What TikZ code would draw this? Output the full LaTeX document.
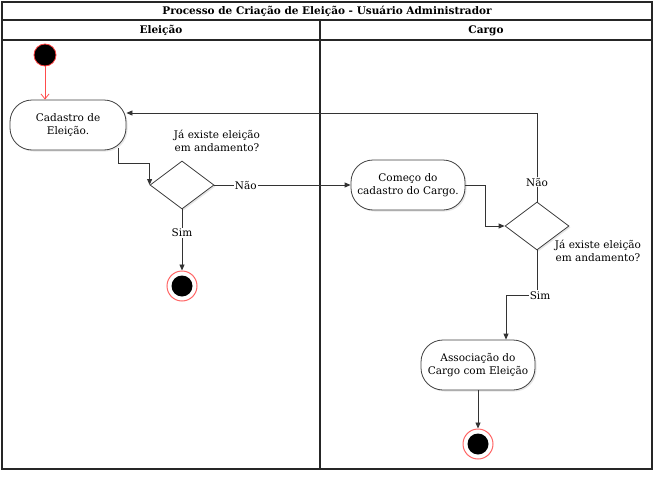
\documentclass[tikz,border=0pt]{standalone}
\usepackage{fontspec}
\setmainfont{DejaVu Serif}
\usetikzlibrary{arrows.meta,shapes.geometric,shadows}
\begin{document}
\begin{tikzpicture}[x=1pt,y=-1pt,
  font=\fontsize{10.5}{13}\selectfont,
  frame/.style={draw=black!85,line width=1.1pt},
  act/.style={draw=black!75,line width=0.8pt,fill=white,rectangle,rounded corners=22pt,
    minimum width=116pt,minimum height=50pt,align=center,inner sep=1pt,
    drop shadow={opacity=0.2,shadow xshift=1.5pt,shadow yshift=-1.5pt}},
  dec/.style={draw=black!75,line width=0.8pt,fill=white,diamond,inner sep=0pt,
    minimum width=64pt,minimum height=48pt,
    drop shadow={opacity=0.2,shadow xshift=1.5pt,shadow yshift=-1.5pt}},
  startnode/.style={circle,fill=black,draw=red!75,line width=0.8pt,minimum size=22pt,inner sep=0pt},
  endnode/.style={circle,fill=white,draw=red!60,line width=1pt,minimum size=30pt,inner sep=0pt,
    path picture={\fill[black] (path picture bounding box.center) circle (10.5pt);}},
  arr/.style={draw=black!80,line width=0.8pt,-{Triangle[length=6pt,width=5pt]}},
  lbl/.style={fill=white,inner sep=1pt},
  note/.style={align=center,inner sep=0pt}]
\useasboundingbox (0,0) rectangle (662,482);
% frame
\draw[frame] (2,2) rectangle (652,469);
\draw[frame] (2,20) -- (652,20);
\draw[frame,line width=1.5pt] (2,40) -- (652,40);
\draw[frame] (320,20) -- (320,469);
\node[font=\fontsize{10.5}{12}\selectfont\bfseries] (title) at (327,11) {Processo de Criação de Eleição - Usuário Administrador};
\node[font=\fontsize{10.5}{12}\selectfont\bfseries] (h1) at (161,30.5) {Eleição};
\node[font=\fontsize{10.5}{12}\selectfont\bfseries] (h2) at (486,30.5) {Cargo};
% nodes
\node[startnode] (start) at (45,55) {};
\node[act] (cad) at (68,125) {Cadastro de\\Eleição.};
\node[dec] (d1) at (182,185) {};
\node[note] (q1) at (217,141) {Já existe eleição\\em andamento?};
\node[endnode] (end1) at (182,286) {};
\node[act,minimum width=114pt] (com) at (408,185) {Começo do\\cadastro do Cargo.};
\node[dec] (d2) at (537,226) {};
\node[note] (q2) at (598,251) {Já existe eleição\\em andamento?};
\node[act,minimum width=114pt] (ass) at (478,365) {Associação do\\Cargo com Eleição};
\node[endnode] (end2) at (478,444) {};
% edges
\draw[draw=red!70,line width=0.8pt,-{Straight Barb[length=5pt,width=8pt]}] (start) -- (start |- cad.north);
\draw[arr] ([xshift=50pt,yshift=2pt]cad.south) -- ++(0,15) -| (d1.west);
\draw[arr] (d1.east) -- node[lbl,pos=0.23]{Não} (com.west);
\draw[arr] (d1.south) -- node[lbl,pos=0.38]{Sim} (end1.north);
\draw[arr] (com.east) -- ++(20,0) |- (d2.west);
\draw[arr] (d2.north) |- node[lbl,pos=0.11]{Não} ([yshift=12pt]cad.east);
\draw[arr] (d2.south) -- ++(0,45) node[lbl,xshift=3pt]{Sim} -| ([xshift=28pt]ass.north);
\draw[arr] (ass.south) -- (end2.north);
\end{tikzpicture}
\end{document}
